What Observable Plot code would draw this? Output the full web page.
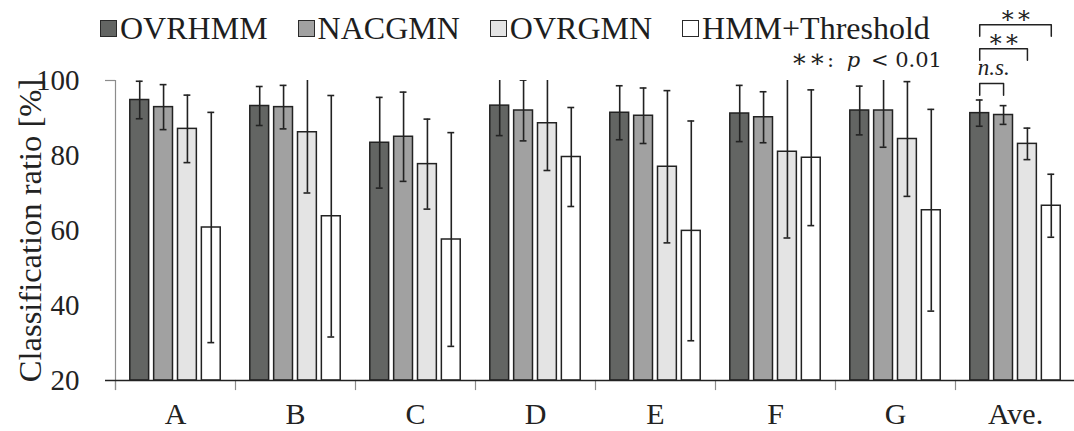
<!DOCTYPE html>
<html>
<head>
<meta charset="utf-8">
<script src="https://cdn.jsdelivr.net/npm/d3@7"></script>
<script src="https://cdn.jsdelivr.net/npm/@observablehq/plot@0.6"></script>
<style>
  html, body { margin: 0; padding: 0; background: #fff; }
  #wrap { position: relative; width: 1074px; height: 431px; overflow: hidden;
          font-family: "Liberation Serif", "Times New Roman", serif; color: #1e1e1e; }
  #wrap svg { position: absolute; left: 0; top: 0; }
  #legend { position: absolute; left: 100px; top: 8px; display: flex; align-items: center;
            font-size: 32px; line-height: 40px; white-space: nowrap; }
  #legend .item { display: flex; align-items: center; margin-right: 30px; }
  #legend .swatch { width: 15px; height: 15px; border: 1.5px solid #2a2a2a; margin-right: 3px; }
  #note { position: absolute; right: 132px; top: 46px; font-family: "DejaVu Serif", serif;
          font-size: 21px; line-height: 26px; white-space: nowrap; }
  #note .stars { font-size: 25px; letter-spacing: 1px; }
  #note i { font-style: italic; margin: 0 4px 0 6px; }
</style>
</head>
<body>
<div id="wrap">
  <div id="chart"></div>
  <div id="legend"></div>
  <div id="note"><span class="stars">∗∗</span>: <i>p</i> &lt; 0.01</div>
</div>
<script>
// Subjects and methods
const categories = ["A", "B", "C", "D", "E", "F", "G", "Ave."];
const series = ["OVRHMM", "NACGMN", "OVRGMN", "HMM+Threshold"];
const seriesFill = ["#636563", "#a1a1a1", "#e4e4e4", "#ffffff"];

// Classification ratio [%]: mean and standard deviation per subject
const ovrhmmMean = [94.8, 93.2, 83.4, 93.3, 91.4, 91.2, 92.0, 91.3];
const ovrhmmSd   = [5.0, 5.2, 12.1, 8.0, 7.2, 7.5, 6.5, 3.5];
const nacgmnMean = [92.9, 92.9, 85.0, 92.0, 90.6, 90.2, 92.0, 90.8];
const nacgmnSd   = [6.0, 5.8, 11.9, 8.1, 7.4, 6.8, 9.8, 2.5];
const ovrgmnMean = [87.1, 86.2, 77.7, 88.6, 77.0, 81.0, 84.4, 83.1];
const ovrgmnSd   = [9.0, 16.2, 12.0, 12.6, 20.3, 23.0, 15.3, 4.2];
const thresholdMean = [60.8, 63.8, 57.6, 79.6, 59.9, 79.4, 65.4, 66.6];
const thresholdSd   = [30.7, 32.2, 28.5, 13.2, 29.3, 18.1, 26.9, 8.4];

const yTicks = [20, 40, 60, 80, 100];
const yLabel = "Classification ratio [%]";

// Significance of the differences between the averaged methods
const comparisons = [
  {from: "OVRHMM", to: "NACGMN", label: "n.s."},
  {from: "OVRHMM", to: "OVRGMN", label: "∗∗"},
  {from: "OVRHMM", to: "HMM+Threshold", label: "∗∗"}
];

const means = [ovrhmmMean, nacgmnMean, ovrgmnMean, thresholdMean];
const sds = [ovrhmmSd, nacgmnSd, ovrgmnSd, thresholdSd];
const rows = [];
series.forEach((s, j) => categories.forEach((c, i) =>
  rows.push({category: c, series: s, value: means[j][i], lo: means[j][i] - sds[j][i], hi: means[j][i] + sds[j][i]})));

// bracket geometry (in y units) above the "Ave." group
const bracketLevel = [99.2, 108.5, 114.9];
const bracketDrop = 3.1;
const bracketRows = comparisons.flatMap((d, k) => [
  {id: k, category: "Ave.", series: d.from, y: bracketLevel[k] - bracketDrop},
  {id: k, category: "Ave.", series: d.from, y: bracketLevel[k]},
  {id: k, category: "Ave.", series: d.to, y: bracketLevel[k]},
  {id: k, category: "Ave.", series: d.to, y: bracketLevel[k] - bracketDrop}
]);

const fxRange = [111, 1078];
const xOptions = {domain: series, paddingInner: 0.21, paddingOuter: 0.62, round: false};
// standalone copy of the in-group scale, used to centre bracket labels
const xInner = Plot.scale({x: {type: "band", ...xOptions, range: [0, (fxRange[1] - fxRange[0]) / categories.length]}});

const ink = "#222";
const axisGray = "#8c8c8c";

const labelMarks = comparisons.map((d, k) => Plot.text([d], {
  fx: () => "Ave.",
  x: "from",
  y: () => bracketLevel[k] + (d.label === "n.s." ? 2.2 : 0.5),
  text: "label",
  dx: (xInner.apply(d.to) - xInner.apply(d.from)) / 2 + (d.label === "n.s." ? 2 : 0),
  lineAnchor: "bottom",
  fontSize: d.label === "n.s." ? 23 : 24,
  fontStyle: d.label === "n.s." ? "italic" : "normal",
  fontFamily: d.label === "n.s." ? "Liberation Serif" : "DejaVu Serif",
  fill: ink
}));

const chart = Plot.plot({
  width: 1074,
  height: 431,
  marginTop: 80,
  marginBottom: 51,
  marginLeft: 111,
  marginRight: 0,
  style: {fontFamily: "'Liberation Serif', 'Times New Roman', serif", fontSize: "30px", color: ink, background: "transparent", overflow: "visible"},
  fx: {domain: categories, range: fxRange, padding: 0, label: null},
  x: {...xOptions, axis: null},
  y: {domain: [20, 100], label: null},
  color: {domain: series, range: seriesFill},
  marks: [
    // y axis line and category boundary ticks
    Plot.frame({anchor: "left", facetAnchor: "left", stroke: axisGray, strokeWidth: 1.2, insetBottom: -9}),
    Plot.frame({anchor: "left", stroke: axisGray, strokeWidth: 1.2, insetTop: 300, insetBottom: -9}),
    Plot.axisY({ticks: [100], tickSize: 10, tickFormat: () => "", stroke: axisGray, strokeWidth: 1.2, label: null}),
    Plot.axisY({ticks: [20], tickSize: 10, tickFormat: () => "", stroke: ink, strokeWidth: 1.5, label: null}),
    Plot.axisY({ticks: yTicks, tickSize: 0, tickPadding: 36, fontSize: 29, label: null}),
    Plot.axisFx({anchor: "bottom", tickSize: 0, tickPadding: 22, fontSize: 30, label: null}),
    Plot.text([yLabel], {text: (d) => d, frameAnchor: "left", facetAnchor: "left", textAnchor: "middle", rotate: -90, dx: -85, fontSize: 32.5, fill: ink}),
    // bars
    Plot.barY(rows, {fx: "category", x: "series", y1: 20, y2: "value", fill: "series", stroke: ink, strokeWidth: 1.5}),
    // error bars (±SD), cut at the top of the frame
    Plot.ruleX(rows, {fx: "category", x: "series", y1: "lo", y2: "hi", stroke: ink, strokeWidth: 1.6, clip: true}),
    Plot.tickY(rows, {fx: "category", x: "series", y: "lo", inset: 6, stroke: ink, strokeWidth: 1.6, clip: true}),
    Plot.tickY(rows, {fx: "category", x: "series", y: "hi", inset: 6, stroke: ink, strokeWidth: 1.6, clip: true}),
    // x axis line
    Plot.ruleY([20], {stroke: ink, strokeWidth: 1.5}),
    // significance brackets
    Plot.line(bracketRows, {fx: "category", x: "series", y: "y", z: "id", stroke: ink, strokeWidth: 1.5}),
    ...labelMarks
  ]
});
document.getElementById("chart").appendChild(chart);

// legend
const legend = document.getElementById("legend");
series.forEach((s, j) => {
  const item = document.createElement("div");
  item.className = "item";
  const sw = document.createElement("div");
  sw.className = "swatch";
  sw.style.background = seriesFill[j];
  const label = document.createElement("span");
  label.textContent = s;
  item.append(sw, label);
  legend.append(item);
});
</script>
</body>
</html>
